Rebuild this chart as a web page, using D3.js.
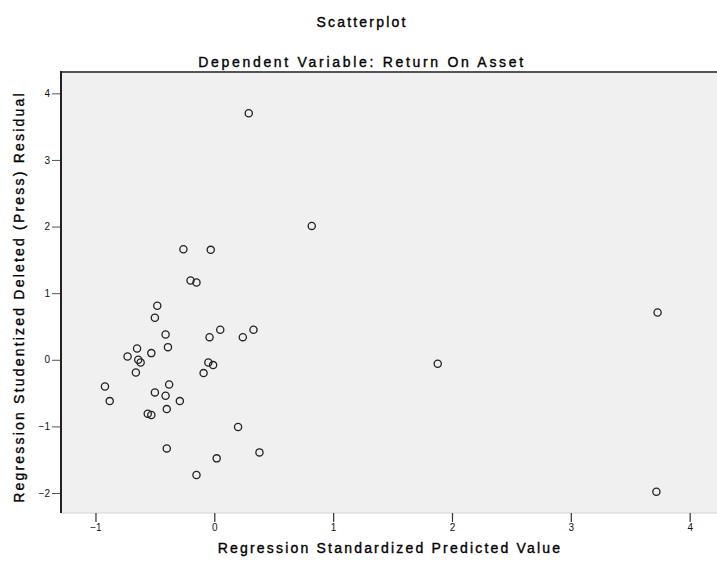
<!DOCTYPE html>
<html>
<head>
<meta charset="utf-8">
<script src="https://cdn.jsdelivr.net/npm/d3@7"></script>
<style>
  body { margin: 0; background: #fff; }
  text { font-family: "Liberation Sans", Arial, sans-serif; fill: #111; }
  .label { fill: #000; stroke: #000; stroke-width: 0.35px; }
</style>
</head>
<body>
<svg id="chart" width="717" height="567"></svg>
<script>
var chartTitle = "Scatterplot";
var chartSubtitle = "Dependent Variable: Return On Asset";
var xLabel = "Regression Standardized Predicted Value";
var yLabel = "Regression Studentized Deleted (Press) Residual";

var xTicks = [-1, 0, 1, 2, 3, 4];
var yTicks = [-2, -1, 0, 1, 2, 3, 4];

// standardized predicted value (x) and deleted residual (y)
var predicted = [0.29, 0.82, -0.26, -0.03, -0.20, -0.15, -0.48, -0.50, -0.41, -0.39,
                 -0.04, 0.05, 0.24, 0.33, -0.65, -0.73, -0.64, -0.62, -0.53, -0.66,
                 -0.05, -0.01, -0.09, -0.92, -0.88, -0.38, -0.50, -0.41, -0.29, -0.40,
                 -0.56, -0.53, 0.20, -0.40, 0.38, 0.02, -0.15, 3.73, 1.88, 3.72];
var residual = [3.70, 2.01, 1.66, 1.65, 1.19, 1.16, 0.81, 0.63, 0.38, 0.19,
                0.34, 0.45, 0.34, 0.45, 0.17, 0.05, 0.00, -0.04, 0.10, -0.19,
                -0.04, -0.08, -0.20, -0.40, -0.62, -0.37, -0.49, -0.54, -0.62, -0.74,
                -0.81, -0.83, -1.01, -1.33, -1.39, -1.48, -1.73, 0.71, -0.06, -1.98];

var svg = d3.select("#chart");

// plot area edges (note: "top" is reserved on window, so use a box)
var box = {left: 61, right: 717, top: 72, bottom: 513};

var x = d3.scaleLinear().domain([-1.29, 4.23]).range([box.left, box.right]);
var y = d3.scaleLinear().domain([-2.30, 4.32]).range([box.bottom, box.top]);

// plot background
svg.append("rect")
    .attr("x", box.left).attr("y", box.top)
    .attr("width", box.right - box.left).attr("height", box.bottom - box.top)
    .attr("fill", "#f0f0f0");

// bottom edge + top frame line
svg.append("line")
    .attr("x1", box.left).attr("x2", box.right)
    .attr("y1", box.bottom).attr("y2", box.bottom)
    .attr("stroke", "#d4d4d4").attr("stroke-width", 1);
svg.append("line")
    .attr("x1", box.left).attr("x2", box.right)
    .attr("y1", box.top).attr("y2", box.top)
    .attr("stroke", "#555").attr("stroke-width", 2);

// axes
var xAxis = d3.axisBottom(x).tickValues(xTicks).tickSize(9).tickPadding(2).tickFormat(d3.format("d"));
var yAxis = d3.axisLeft(y).tickValues(yTicks).tickSize(9).tickPadding(2).tickFormat(d3.format("d"));

var gx = svg.append("g")
    .attr("transform", "translate(0," + box.bottom + ")")
    .call(xAxis);
gx.select(".domain").remove();
gx.selectAll(".tick line").attr("stroke", "#333").attr("stroke-width", 1.2);
gx.selectAll(".tick text").attr("font-size", 10).attr("fill", "#222");

var gy = svg.append("g")
    .attr("transform", "translate(" + box.left + ",0)")
    .call(yAxis);
gy.select(".domain").remove();
gy.selectAll(".tick line").attr("stroke", "#555").attr("stroke-width", 1);
gy.selectAll(".tick text").attr("font-size", 10).attr("fill", "#222");

// left axis line
svg.append("line")
    .attr("x1", box.left).attr("x2", box.left)
    .attr("y1", box.top - 1).attr("y2", box.bottom)
    .attr("stroke", "#222").attr("stroke-width", 2);

// points
svg.append("g").attr("class", "points")
  .selectAll("circle")
    .data(predicted.map(function(d, i) { return [d, residual[i]]; }))
    .enter().append("circle")
    .attr("cx", function(d) { return x(d[0]); })
    .attr("cy", function(d) { return y(d[1]); })
    .attr("r", 3.6)
    .attr("fill", "none")
    .attr("stroke", "#222")
    .attr("stroke-width", 1.3);

// titles
svg.append("text")
    .attr("class", "label")
    .attr("x", 362).attr("y", 27)
    .attr("text-anchor", "middle")
    .attr("font-size", 14)
    .style("letter-spacing", "2.2px")
    .text(chartTitle);

svg.append("text")
    .attr("class", "label")
    .attr("x", 362).attr("y", 67)
    .attr("text-anchor", "middle")
    .attr("font-size", 14)
    .style("letter-spacing", "2.7px")
    .text(chartSubtitle);

svg.append("text")
    .attr("class", "label")
    .attr("x", 390).attr("y", 553)
    .attr("text-anchor", "middle")
    .attr("font-size", 14)
    .style("letter-spacing", "2.2px")
    .text(xLabel);

svg.append("text")
    .attr("class", "label")
    .attr("transform", "translate(24,297) rotate(-90)")
    .attr("text-anchor", "middle")
    .attr("font-size", 14)
    .style("letter-spacing", "2.2px")
    .text(yLabel);
</script>
</body>
</html>
